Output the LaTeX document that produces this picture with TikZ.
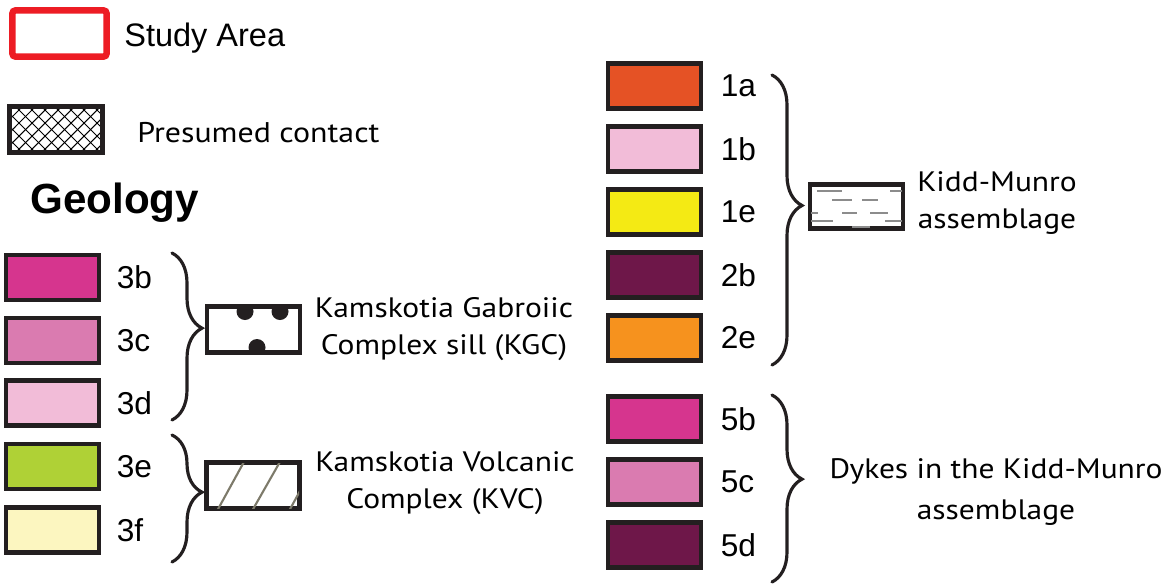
\documentclass[tikz,border=0pt]{standalone}
\usepackage{fontspec}
\setmainfont{Liberation Sans}
\newfontfamily\legendfont[FakeStretch=1.12]{PT Sans}
\usetikzlibrary{positioning, decorations.pathreplacing}

\definecolor{boxline}{HTML}{231F20}
\definecolor{studyred}{HTML}{ED1C24}
\definecolor{unitIa}{HTML}{E55225}
\definecolor{unitIb}{HTML}{F2BCD8}
\definecolor{unitIe}{HTML}{F4EA14}
\definecolor{unitIIb}{HTML}{6E1749}
\definecolor{unitIIe}{HTML}{F6921E}
\definecolor{unitIIIb}{HTML}{D6358E}
\definecolor{unitIIIc}{HTML}{DA7BB0}
\definecolor{unitIIIe}{HTML}{AFD136}
\definecolor{unitIIIf}{HTML}{FCF6C0}
\definecolor{hatchline}{HTML}{7D7A6A}
\definecolor{dashgray}{HTML}{8C8C8C}

\begin{document}
\begin{tikzpicture}[x=0.02cm, y=-0.02cm,
    swatch/.style={draw=boxline, line width=2.8pt, minimum width=1.86cm, minimum height=0.9cm, inner sep=0pt},
    code/.style={font=\fontsize{18}{20}\selectfont, inner sep=0pt},
    legtext/.style={font=\legendfont\fontsize{16}{21}\selectfont, align=center, inner sep=0pt},
    curly/.style={decorate, decoration={brace, amplitude=0.6cm, aspect=0.45}, line width=1.8pt, line cap=round, boxline}]
                \useasboundingbox (0,0) rectangle (1168,585);

                % Study area
                \node[swatch, draw=studyred, line width=3.7pt, rounded corners=2pt, minimum width=1.89cm, minimum height=0.93cm] (study) at (59.5,33.5) {};
                \node[code, font=\fontsize{18.5}{20}\selectfont, anchor=base west] (tstudy) at (124,46) {Study Area};

                % Presumed contact
                \node[swatch, minimum height=0.92cm] (contact) at (56,129.5) {};
                \begin{scope}
                    \clip (8,105) rectangle (104,154);
                    \foreach \i in {-65,-52,...,110} {
                        \draw[line width=0.6pt] (\i,155) -- (\i+51,104);
                        \draw[line width=0.6pt] (\i,104) -- (\i+51,155);
                    }
                \end{scope}
                \node[swatch, minimum height=0.92cm] at (contact) {};
                \node[legtext, font=\legendfont\fontsize{16.2}{20}\selectfont, anchor=base west] (tcontact) at (137,142) {Presumed contact};

                % Geology
                \node[code, font=\bfseries\fontsize{24}{26}\selectfont, anchor=base west] (geology) at (30,213) {Geology};

                % Units 3b - 3f
                \node[swatch, fill=unitIIIb] (s3b) at (52.5,277.5) {};
                \node[swatch, fill=unitIIIc] (s3c) at (52.5,340.5) {};
                \node[swatch, fill=unitIb] (s3d) at (52.5,403) {};
                \node[swatch, fill=unitIIIe] (s3e) at (52.5,466.5) {};
                \node[swatch, fill=unitIIIf] (s3f) at (52.5,530) {};
                \node[code, right=0.3cm of s3b] (l3b) {3b};
                \node[code, right=0.3cm of s3c] (l3c) {3c};
                \node[code, right=0.3cm of s3d] (l3d) {3d};
                \node[code, right=0.3cm of s3e] (l3e) {3e};
                \node[code, right=0.3cm of s3f] (l3f) {3f};

                % KGC sill
                \coordinate (kgctop) at (172,253);
                \coordinate (kgcbot) at (172,420);
                \draw[curly] (kgctop) -- (kgcbot);
                \node[swatch, fill=white, minimum height=0.92cm] (kgc) at (253.5,329.5) {};
                \begin{scope}
                    \clip (kgc.south west) rectangle (kgc.north east);
                    \fill[boxline] (245,311.5) circle (8.5);
                    \fill[boxline] (280,311.5) circle (8.5);
                    \fill[boxline] (257,347.5) circle (8.5);
                \end{scope}
                \node[legtext] (tkgc) at (444,329) {Kamskotia Gabroiic\\Complex sill (KGC)};

                % KVC
                \coordinate (kvctop) at (172,435);
                \coordinate (kvcbot) at (172,562);
                \draw[curly] (kvctop) -- (kvcbot);
                \node[swatch, fill=white, minimum height=0.92cm] (kvc) at (253,485.5) {};
                \begin{scope}
                    \clip (207,463) rectangle (299,508);
                    \draw[hatchline, line width=1.2pt] (217,511) -- (245,460);
                    \draw[hatchline, line width=1.2pt] (252,511) -- (281,460);
                    \draw[hatchline, line width=1.2pt] (289,511) -- (317,460);
                \end{scope}
                \node[legtext] (tkvc) at (445,483) {Kamskotia Volcanic\\Complex (KVC)};

                % Units 1a - 2e
                \node[swatch, fill=unitIa] (s1a) at (654.5,86) {};
                \node[swatch, fill=unitIb] (s1b) at (654.5,149) {};
                \node[swatch, fill=unitIe] (s1e) at (654.5,212) {};
                \node[swatch, fill=unitIIb] (s2b) at (654.5,275) {};
                \node[swatch, fill=unitIIe] (s2e) at (654.5,338) {};
                \node[code, right=0.34cm of s1a] (l1a) {1a};
                \node[code, right=0.34cm of s1b] (l1b) {1b};
                \node[code, right=0.34cm of s1e] (l1e) {1e};
                \node[code, right=0.34cm of s2b] (l2b) {2b};
                \node[code, right=0.34cm of s2e] (l2e) {2e};

                % Kidd-Munro
                \coordinate (kmrtop) at (772,75);
                \coordinate (kmrbot) at (772,365);
                \draw[curly] (kmrtop) -- (kmrbot);
                \node[swatch, fill=white, minimum height=0.88cm] (kmr) at (856.5,206.5) {};
                \draw[dashgray, line width=0.6pt] (817,191) -- (842,191) (890,191) -- (902,191)
                    (832,200) -- (852,200) (862,200) -- (878,200)
                    (811,213) -- (818,213) (842,213) -- (857,213) (870,213) -- (888,213)
                    (811,221) -- (833,221) (885,221) -- (902,221)
                    (852,227) -- (870,227);
                \node[legtext] (tkmr) at (997,203) {Kidd-Munro\\assemblage};

                % Units 5b - 5d
                \node[swatch, fill=unitIIIb] (s5b) at (654.5,419) {};
                \node[swatch, fill=unitIIIc] (s5c) at (654.5,482) {};
                \node[swatch, fill=unitIIb] (s5d) at (654.5,545) {};
                \node[code, right=0.34cm of s5b] (l5b) {5b};
                \node[code, right=0.34cm of s5c] (l5c) {5c};
                \node[code, right=0.34cm of s5d] (l5d) {5d};

                % Dykes
                \coordinate (dyketop) at (772,395);
                \coordinate (dykebot) at (772,582);
                \draw[curly] (dyketop) -- (dykebot);
                \node[legtext, font=\legendfont\fontsize{16}{23}\selectfont] (tdyke) at (996,492) {Dykes in the Kidd-Munro\\assemblage};
\end{tikzpicture}
\end{document}
